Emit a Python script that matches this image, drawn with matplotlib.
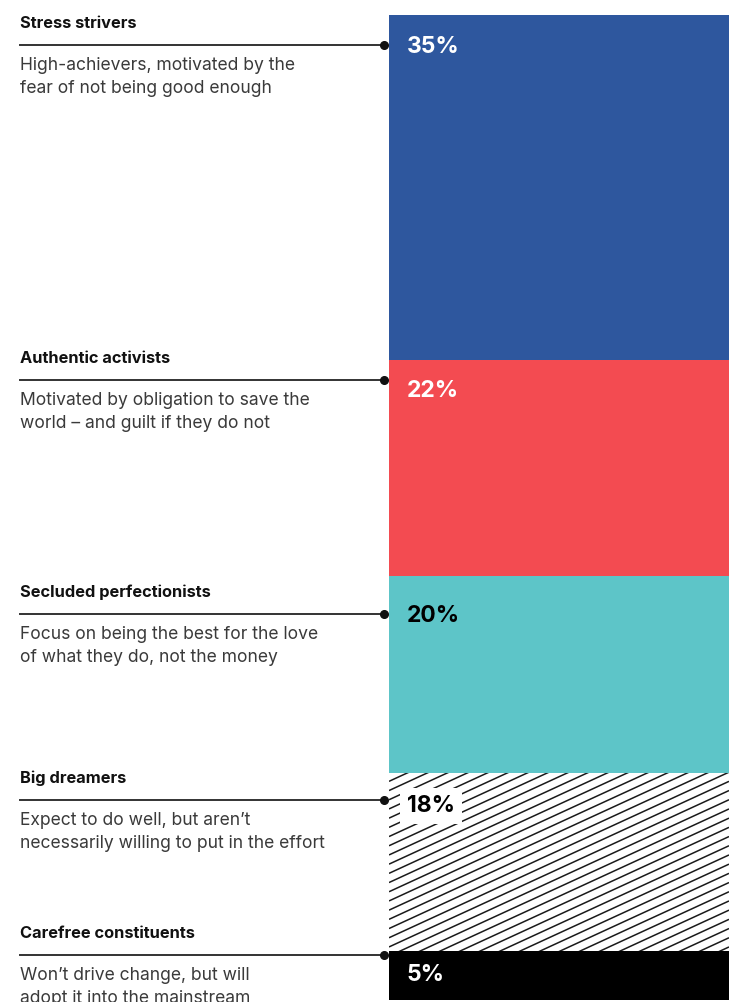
import matplotlib.pyplot as plt
import numpy as np

groups = ['Stress strivers', 'Authentic activists', 'Secluded perfectionists',
          'Big dreamers', 'Carefree constituents']
blurbs = [
    ['High-achievers, motivated by the', 'fear of not being good enough'],
    ['Motivated by obligation to save the', 'world \u2013 and guilt if they do not'],
    ['Focus on being the best for the love', 'of what they do, not the money'],
    ['Expect to do well, but aren\u2019t', 'necessarily willing to put in the effort'],
    ['Won\u2019t drive change, but will', 'adopt it into the mainstream'],
]
shares = [35, 22, 20, 18, 5]

colors = ['#2E579E', '#F34B51', '#5DC5C8', 'white', 'black']
label_colors = ['white', 'white', 'black', 'black', 'white']

# layout, in pixels from the top of the figure
leader_y = [45, 380, 614, 800, 955]
pct_y = [47, 391, 616, 806, 975]

W, H = 731, 1002
plt.rcParams['font.family'] = ['Inter', 'DejaVu Sans']

fig = plt.figure(figsize=(W / 100, H / 100), dpi=100)

# stacked bar on the right
bar_l, bar_r, bar_t, bar_b = 389, 729, 15, 1000
ax = fig.add_axes([bar_l / W, (H - bar_b) / H, (bar_r - bar_l) / W, (bar_b - bar_t) / H])
bottoms = np.concatenate([[0], np.cumsum(shares)[:-1]])
patches = []
for s, b, c in zip(shares, bottoms, colors):
    p = ax.bar(0, s, bottom=b, width=1, color=c, linewidth=0, align='edge')[0]
    patches.append(p)
ax.set_xlim(0, 1)
ax.set_ylim(sum(shares), 0)
ax.axis('off')

# diagonal hatching for the white segment
hp = patches[3]
px_x = bar_r - bar_l
px_y = (bar_b - bar_t) / sum(shares)
slope = -0.46 * px_x / px_y
gap = 9.2 / px_y
y0 = bottoms[3]
xs = np.array([0, 1])
for c0 in np.arange(y0 - 2, y0 + shares[3] - slope + 2, gap):
    ln, = ax.plot(xs, c0 + slope * xs, color='#1a1a1a', lw=1.1, solid_capstyle='butt')
    ln.set_clip_path(hp)

# overlay in pixel coordinates for labels and leaders
ov = fig.add_axes([0, 0, 1, 1])
ov.set_xlim(0, W)
ov.set_ylim(H, 0)
ov.axis('off')
ov.patch.set_alpha(0)

for i, g in enumerate(groups):
    ly = leader_y[i]
    ov.plot([20, 384], [ly, ly], color='#333333', lw=1.4)
    ov.plot([384], [ly], 'o', color='#111111', ms=5.5)
    ov.text(20, ly - 17, g, fontsize=11.8, fontweight='bold', color='#111111', va='baseline')
    for k, line in enumerate(blurbs[i]):
        ov.text(20, ly + 25 + 23 * k, line, fontsize=12.6, color='#3a3a3a', va='baseline')
    box = None
    if colors[i] == 'white':
        box = dict(facecolor='white', edgecolor='none', pad=5)
    ov.text(407, pct_y[i], f'{shares[i]}%', fontsize=16.5, fontweight='bold',
            color=label_colors[i], va='center', ha='left', bbox=box)

fig.savefig('out.png', dpi=100)
